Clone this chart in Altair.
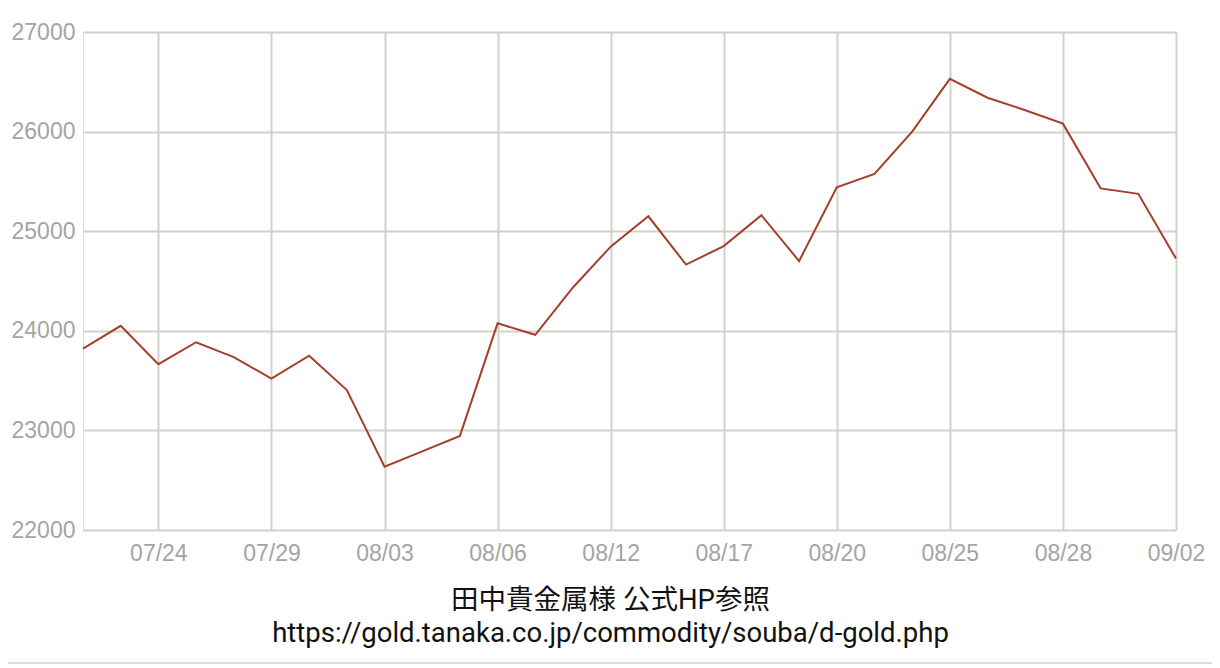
import json
import altair as alt
import pandas as pd

# ---- data ----
prices = [23820, 24050, 23665, 23885, 23735, 23520, 23750, 23405, 22635, 22790,
          22945, 24075, 23960, 24435, 24845, 25150, 24665, 24850, 25160, 24700,
          25440, 25575, 26000, 26530, 26340, 26215, 26080, 25430, 25375, 24725]
tick_index = [2, 5, 8, 11, 14, 17, 20, 23, 26, 29]
tick_labels = ["07/24", "07/29", "08/03", "08/06", "08/12",
               "08/17", "08/20", "08/25", "08/28", "09/02"]
y_ticks = [22000, 23000, 24000, 25000, 26000, 27000]
caption_1 = "田中貴金属様 公式HP参照"
caption_2 = "https://gold.tanaka.co.jp/commodity/souba/d-gold.php"

df = pd.DataFrame({"i": list(range(len(prices))), "price": prices})
one = pd.DataFrame({"k": [0]})

W, H = 1093, 498
label_expr = f"{json.dumps(tick_labels)}[(datum.value - 2) / 3]"
LABEL_FONT = "Liberation Sans"
CAP_FONT = "Roboto, 'Noto Sans CJK JP', sans-serif"

line = alt.Chart(df).mark_line(color="#a33f2c", strokeWidth=2).encode(
    x=alt.X("i:Q",
            scale=alt.Scale(domain=[0, len(prices) - 1], nice=False, zero=False),
            axis=alt.Axis(values=tick_index, labelExpr=label_expr, title=None,
                          grid=True, gridColor="#d2d2cc", gridWidth=2,
                          domain=False, ticks=False, labelFont=LABEL_FONT,
                          labelFontSize=23, labelColor="#a4a4a4", labelPadding=12,
                          labelFlush=False)),
    y=alt.Y("price:Q",
            scale=alt.Scale(domain=[22000, 27000], nice=False, zero=False),
            axis=alt.Axis(values=y_ticks, format="d", title=None, grid=True,
                          gridColor="#d2d2cc", gridWidth=2, domain=False,
                          ticks=False, labelFont=LABEL_FONT,
                          labelFontSize=23, labelColor="#a4a4a4", labelPadding=8)),
)

cap1 = alt.Chart(one).mark_text(
    text=caption_1, font=CAP_FONT, fontSize=27.5, color="#111111",
    align="center", baseline="middle", fontWeight="normal"
).encode(x=alt.value(W / 2 - 19), y=alt.value(569))

cap2 = alt.Chart(one).mark_text(
    text=caption_2, font=CAP_FONT, fontSize=27.5, color="#111111",
    align="center", baseline="middle", fontWeight="normal"
).encode(x=alt.value(W / 2 - 19), y=alt.value(602))

sep = alt.Chart(one).mark_rule(color="#dddddd", strokeWidth=2).encode(
    x=alt.value(-75), x2=alt.value(W + 36), y=alt.value(631)
)

chart = alt.layer(line, cap1, cap2, sep).properties(
    width=W, height=H,
    padding={"left": 75, "top": 24, "right": 36, "bottom": 135},
    autosize=alt.AutoSizeParams(type="none"),
).configure_view(
    fill="#fdfdf1", stroke="#d2d2cc", strokeWidth=2
).configure(background="white")

chart.save("out.html", embed_options={"renderer": "svg", "actions": False})
